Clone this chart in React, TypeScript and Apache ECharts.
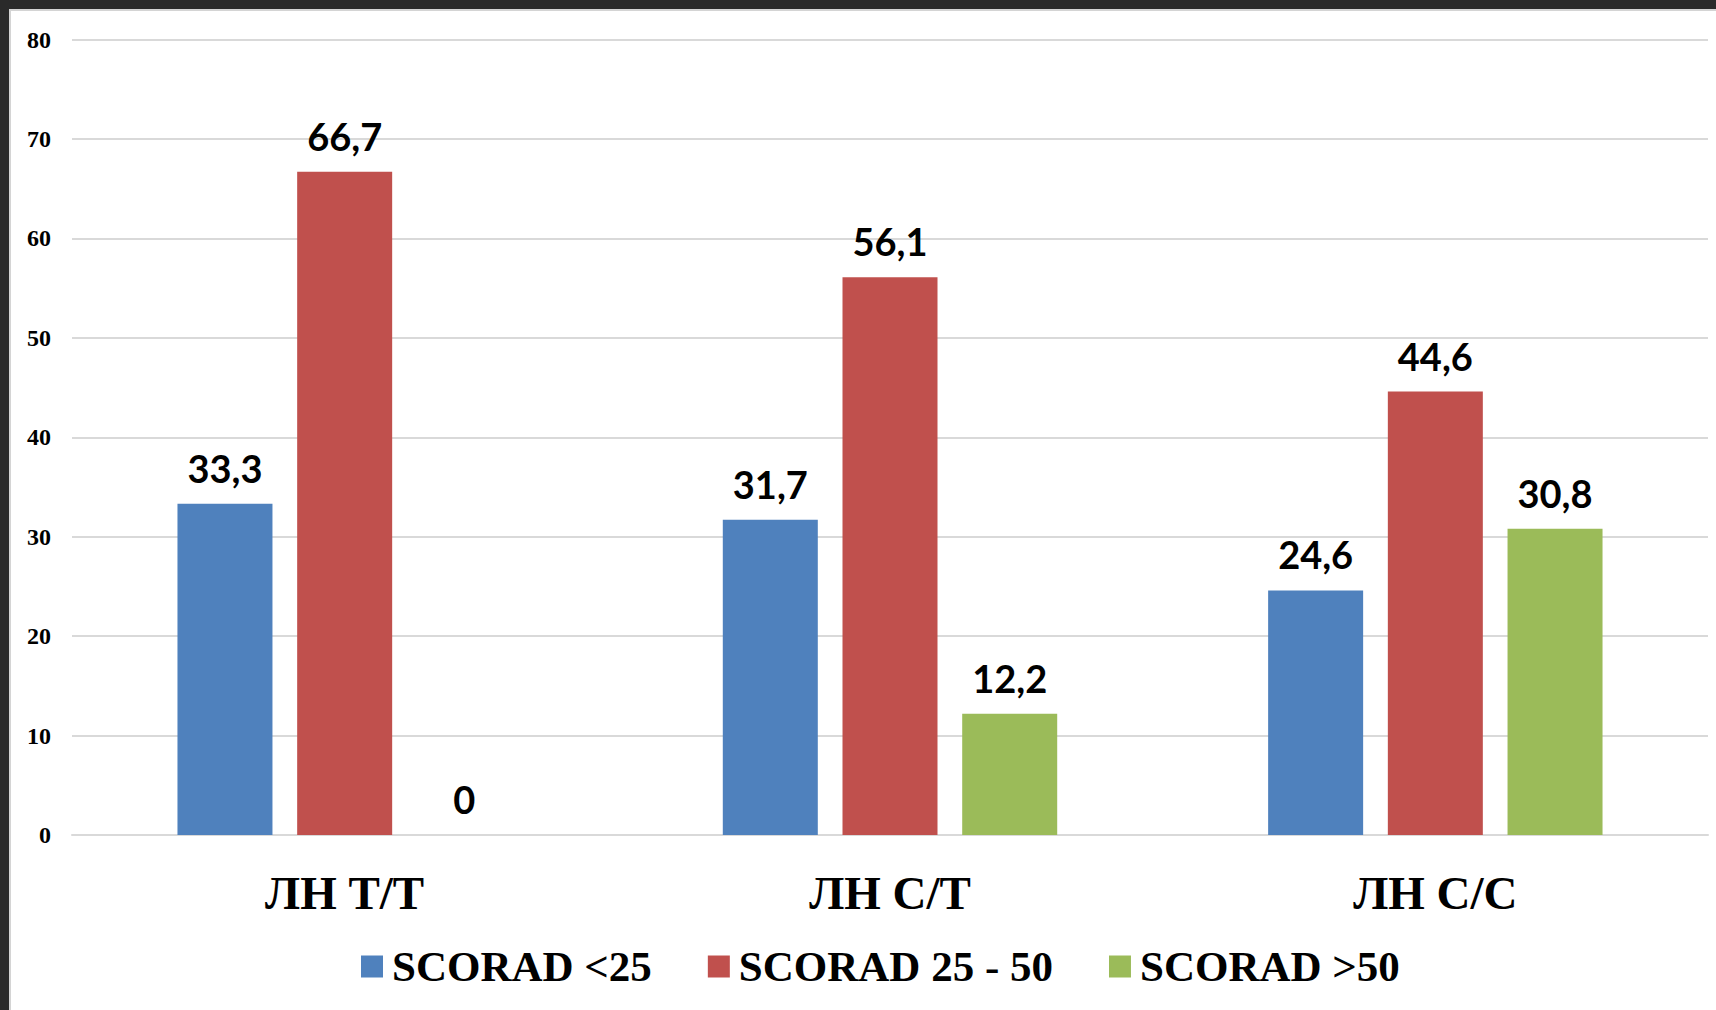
import React, { useEffect, useRef } from "react";
import * as echarts from "echarts";

const categories = ["ЛН Т/Т", "ЛН С/Т", "ЛН С/С"];
const seriesNames = ["SCORAD <25", "SCORAD 25 - 50", "SCORAD >50"];
const lowValues = [33.3, 31.7, 24.6];
const midValues = [66.7, 56.1, 44.6];
const highValues = [0, 12.2, 30.8];
const colors = ["#4F81BD", "#C0504D", "#9BBB59"];
const yMin = 0;
const yMax = 80;
const yInterval = 10;

export default function App() {
  const ref = useRef<HTMLDivElement>(null);
  useEffect(() => {
    if (!ref.current) return;
    const chart = echarts.init(ref.current, null, { renderer: "svg" });
    const label = {
      show: true,
      position: "top",
      distance: 17,
      formatter: (p: any) => String(p.value).replace(".", ","),
      fontFamily: "Lato",
      fontWeight: "bold",
      fontSize: 38,
      color: "#000",
    };
    const data = [lowValues, midValues, highValues];
    chart.setOption({
      animation: false,
      backgroundColor: "#ffffff",
      graphic: [
        { type: "rect", shape: { x: 0, y: 0, width: 1716, height: 9 }, style: { fill: "#2a2a2a" }, silent: true },
        { type: "rect", shape: { x: 0, y: 0, width: 9, height: 1010 }, style: { fill: "#2a2a2a" }, silent: true },
        { type: "rect", shape: { x: 9, y: 9, width: 1707, height: 2 }, style: { fill: "#d4d4d4" }, silent: true },
        { type: "rect", shape: { x: 9, y: 9, width: 2, height: 1001 }, style: { fill: "#d4d4d4" }, silent: true },
      ],
      grid: { left: 72, right: 8, top: 39.5, bottom: 175, containLabel: false },
      legend: {
        left: 356,
        top: 940,
        icon: "rect",
        itemWidth: 22,
        itemHeight: 22,
        itemGap: 56,
        data: seriesNames,
        textStyle: {
          fontFamily: "Liberation Serif",
          fontWeight: "bold",
          fontSize: 43,
          color: "#000",
          padding: [0, 0, 0, 4],
        },
      },
      xAxis: {
        type: "category",
        data: categories,
        axisLine: { show: true, lineStyle: { color: "#d9d9d9", width: 2 } },
        axisTick: { show: false },
        axisLabel: {
          margin: 34,
          fontFamily: "Liberation Serif",
          fontWeight: "bold",
          fontSize: 47,
          color: "#000",
        },
      },
      yAxis: {
        type: "value",
        min: yMin,
        max: yMax,
        interval: yInterval,
        axisLine: { show: false },
        axisTick: { show: false },
        splitLine: { lineStyle: { color: "#d9d9d9", width: 2 } },
        axisLabel: {
          margin: 21,
          fontFamily: "Liberation Serif",
          fontWeight: "bold",
          fontSize: 24,
          color: "#000",
        },
      },
      series: seriesNames.map((name, i) => ({
        name,
        type: "bar",
        data: data[i],
        barWidth: 95,
        barGap: "26%",
        itemStyle: { color: colors[i] },
        label,
      })),
    });
    return () => chart.dispose();
  }, []);
  return (
    <div
      ref={ref}
      style={{ position: "absolute", left: 0, top: 0, width: 1716, height: 1010 }}
    />
  );
}
